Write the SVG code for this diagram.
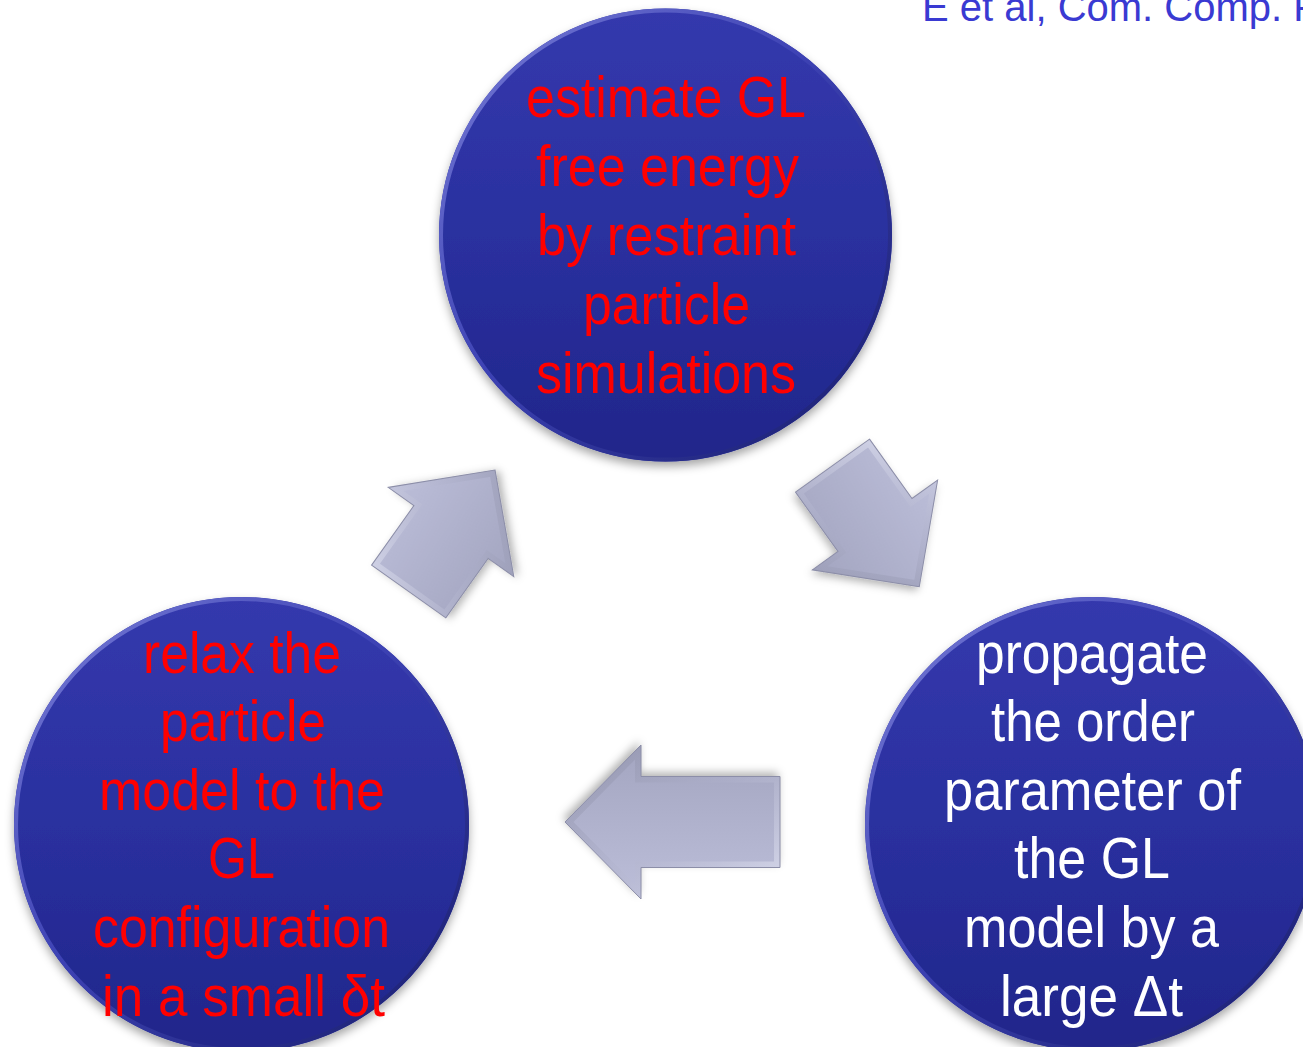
<svg xmlns="http://www.w3.org/2000/svg" width="1303" height="1047" viewBox="0 0 1303 1047">
  <style>
    .lbl { font-family: "Liberation Sans", Arial, sans-serif; font-size: 58px; }
    .red { fill: #ff0000; }
    .wht { fill: #ffffff; }
    .ref { font-family: "Liberation Sans", Arial, sans-serif; font-size: 40px; fill: #3a3ad2; }
    .ball { fill: url(#ballFill); filter: url(#shadow); }
    .rim { fill: none; stroke: url(#rimGrad); stroke-width: 4; }
    .arrowBody { fill: url(#arrowFill); filter: url(#ashadow); }
    .arrowBevel { fill: none; stroke: url(#bevelGrad); stroke-width: 12; stroke-linejoin: miter; }
    .arrowEdge { fill: none; stroke: #8c8ea8; stroke-width: 1; stroke-linejoin: miter; }
  </style>
  <defs>
    <linearGradient id="ballFill" x1="0" y1="0" x2="0" y2="1">
      <stop offset="0" stop-color="#3439ad"/>
      <stop offset="0.5" stop-color="#2a309f"/>
      <stop offset="1" stop-color="#20268a"/>
    </linearGradient>
    <linearGradient id="rimGrad" x1="0" y1="0" x2="1" y2="1">
      <stop offset="0" stop-color="#7a7fd8"/>
      <stop offset="0.45" stop-color="#3d42b4"/>
      <stop offset="1" stop-color="#171c6a"/>
    </linearGradient>
    <linearGradient id="arrowFill" x1="0" y1="0" x2="0" y2="1">
      <stop offset="0" stop-color="#bcbed9"/>
      <stop offset="1" stop-color="#a3a5c0"/>
    </linearGradient>
    <linearGradient id="bevelGrad" x1="0" y1="0" x2="1" y2="1">
      <stop offset="0" stop-color="#e2e4f3" stop-opacity="0.8"/>
      <stop offset="0.5" stop-color="#b0b2cc" stop-opacity="0.4"/>
      <stop offset="1" stop-color="#85879f" stop-opacity="0.7"/>
    </linearGradient>
    <filter id="shadow" x="-20%" y="-20%" width="140%" height="150%">
      <feDropShadow dx="0" dy="5" stdDeviation="5" flood-color="#000" flood-opacity="0.35"/>
    </filter>
    <filter id="ashadow" x="-30%" y="-30%" width="160%" height="160%">
      <feDropShadow dx="2" dy="4" stdDeviation="4" flood-color="#000" flood-opacity="0.3"/>
    </filter>
    <polygon id="diagShape" points="-73,-45.5 0,-45.5 0,-77 76,0 0,77 0,45.5 -73,45.5"/>
    <polygon id="longShape" points="-139,-45.5 0,-45.5 0,-77 76,0 0,77 0,45.5 -139,45.5"/>
    <clipPath id="clipDiag"><use href="#diagShape"/></clipPath>
    <clipPath id="clipLong"><use href="#longShape"/></clipPath>
  </defs>

  <text class="ref" x="922" y="21">E et al, Com. Comp. P</text>

  <g id="connectors">
    <g id="arrow-left-to-top" transform="translate(451,532) rotate(-54.6)">
      <use href="#diagShape" class="arrowBody"/>
      <use href="#diagShape" class="arrowBevel" clip-path="url(#clipDiag)"/>
      <use href="#diagShape" class="arrowEdge"/>
    </g>
    <g id="arrow-top-to-right" transform="translate(875,525) rotate(54.4)">
      <use href="#diagShape" class="arrowBody"/>
      <use href="#diagShape" class="arrowBevel" clip-path="url(#clipDiag)"/>
      <use href="#diagShape" class="arrowEdge"/>
    </g>
    <g id="arrow-right-to-left" transform="translate(641,822) rotate(180)">
      <use href="#longShape" class="arrowBody"/>
      <use href="#longShape" class="arrowBevel" clip-path="url(#clipLong)"/>
      <use href="#longShape" class="arrowEdge"/>
    </g>
  </g>

  <g id="node-top">
    <circle class="ball" cx="665.5" cy="235" r="226.5"/>
    <circle class="rim" cx="665.5" cy="235" r="224.5"/>
    <g class="lbl red">
      <text x="526" y="117" textLength="280" lengthAdjust="spacingAndGlyphs">estimate GL</text>
      <text x="536" y="186" textLength="263" lengthAdjust="spacingAndGlyphs">free energy</text>
      <text x="537" y="255" textLength="259" lengthAdjust="spacingAndGlyphs">by restraint</text>
      <text x="583" y="324" textLength="167" lengthAdjust="spacingAndGlyphs">particle</text>
      <text x="536" y="393" textLength="260" lengthAdjust="spacingAndGlyphs">simulations</text>
    </g>
  </g>

  <g id="node-right">
    <circle class="ball" cx="1092" cy="824" r="227"/>
    <circle class="rim" cx="1092" cy="824" r="225"/>
    <g class="lbl wht">
      <text x="976" y="673" textLength="232" lengthAdjust="spacingAndGlyphs">propagate</text>
      <text x="991" y="741" textLength="204" lengthAdjust="spacingAndGlyphs">the order</text>
      <text x="944" y="810" textLength="297" lengthAdjust="spacingAndGlyphs">parameter of</text>
      <text x="1014" y="878" textLength="156" lengthAdjust="spacingAndGlyphs">the GL</text>
      <text x="964" y="947" textLength="255" lengthAdjust="spacingAndGlyphs">model by a</text>
      <text x="1000" y="1016" textLength="183" lengthAdjust="spacingAndGlyphs">large Δt</text>
    </g>
  </g>

  <g id="node-left">
    <circle class="ball" cx="241.5" cy="824.5" r="227.5"/>
    <circle class="rim" cx="241.5" cy="824.5" r="225.5"/>
    <g class="lbl red">
      <text x="143" y="673" textLength="198" lengthAdjust="spacingAndGlyphs">relax the</text>
      <text x="160" y="741" textLength="166" lengthAdjust="spacingAndGlyphs">particle</text>
      <text x="99" y="810" textLength="286" lengthAdjust="spacingAndGlyphs">model to the</text>
      <text x="208" y="878" textLength="67" lengthAdjust="spacingAndGlyphs">GL</text>
      <text x="93" y="947" textLength="297" lengthAdjust="spacingAndGlyphs">configuration</text>
      <text x="102" y="1016" textLength="283" lengthAdjust="spacingAndGlyphs">in a small δt</text>
    </g>
  </g>
</svg>
